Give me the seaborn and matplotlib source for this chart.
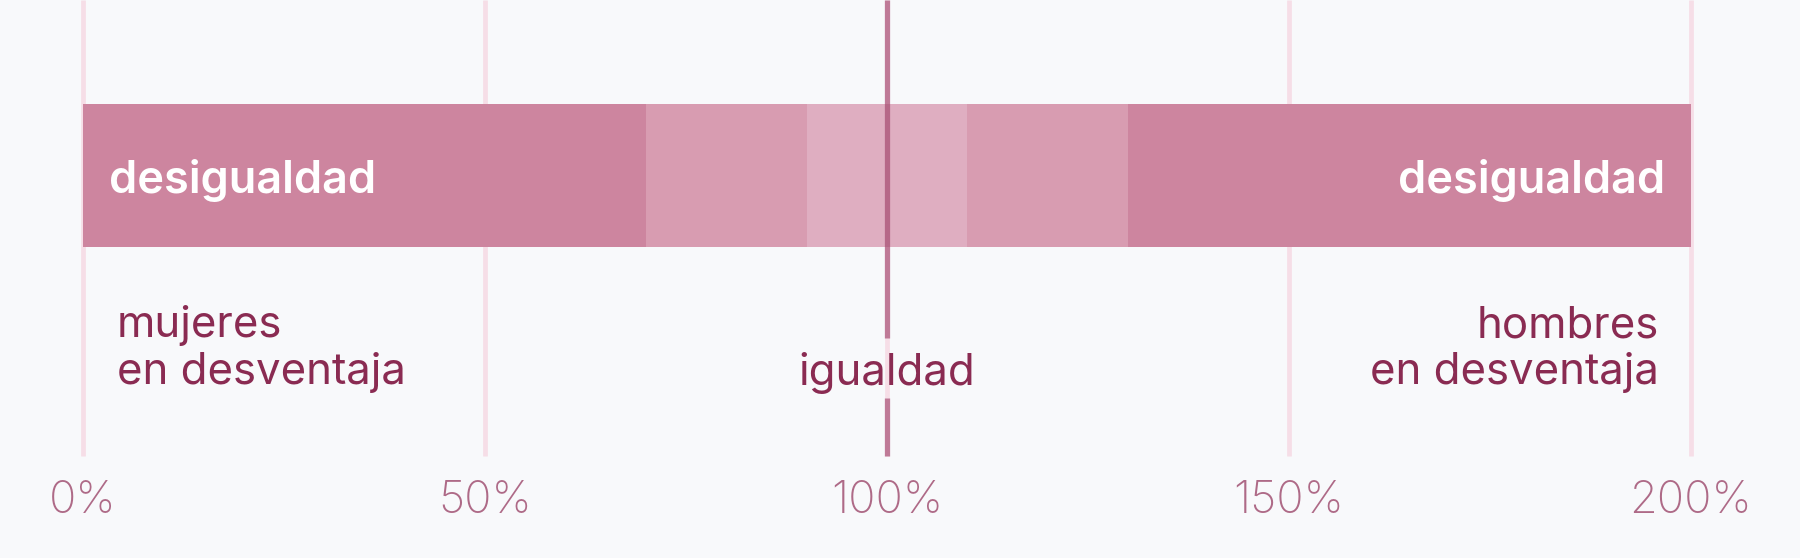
import numpy as np
import pandas as pd
import seaborn as sns
import matplotlib.pyplot as plt

# datos
limites = [0, 70, 90, 110, 130, 200]          # bordes de cada tramo (%)
tonos = ['#CD859F', '#D89CB1', '#DFAEC1', '#D89CB1', '#CD859F']
marcas = [0, 50, 100, 150, 200]
etiquetas = ['0%', '50%', '100%', '150%', '200%']
igualdad = 100

fondo = '#F8F9FB'
rejilla = '#F6DEE7'
texto = '#8A2B52'
texto_eje = '#AE6A87'

sns.set_theme(style='white')
plt.rcParams['font.family'] = ['Inter', 'DejaVu Sans']

fig = plt.figure(figsize=(18, 5.58), dpi=100, facecolor=fondo)
ax = fig.add_axes([0, 0, 1, 1])
ax.set_facecolor(fondo)

# escala: 0% en x=83px, 200% en x=1691px
ppu = (1691 - 83) / 200
ax.set_xlim(-83 / ppu, (1800 - 83) / ppu)

def px(p):
    return (p - 83) / ppu

def py(p):
    # pixel vertical -> unidades del eje (barra de 104 a 247 px)
    return (p - 175.5) * 0.8 / 143

# lineas de referencia
ax.vlines(marcas, py(0), py(456), color=rejilla, lw=3.4, zorder=0)

# tramos: barras acumuladas de mayor a menor
for i in range(len(tonos) - 1, -1, -1):
    df = pd.DataFrame({'valor': [limites[i + 1]], 'fila': ['brecha']})
    sns.barplot(data=df, x='valor', y='fila', orient='h', color=tonos[i],
                saturation=1, width=0.8, linewidth=0, ax=ax, zorder=1)

ax.set_ylim(py(558), py(0))
ax.set_xlim(px(0), px(1800))

# linea de igualdad
ax.vlines(igualdad, py(0), py(338), color='#9E3D66', alpha=0.62, lw=3.8, zorder=3)
ax.vlines(igualdad, py(398), py(456), color='#9E3D66', alpha=0.62, lw=3.8, zorder=3)

# textos
ax.text(px(109), py(193), 'desigualdad', color='white', fontsize=32.5,
        fontweight='semibold', va='baseline', ha='left', zorder=4)
ax.text(px(1665), py(193), 'desigualdad', color='white', fontsize=32.5,
        fontweight='semibold', va='baseline', ha='right', zorder=4)

ax.text(px(117), py(337), 'mujeres', color=texto, fontsize=31.5, va='baseline', ha='left')
ax.text(px(117), py(384), 'en desventaja', color=texto, fontsize=31.5, va='baseline', ha='left')
ax.text(px(1659), py(337), 'hombres', color=texto, fontsize=31.5, va='baseline', ha='right')
ax.text(px(1659), py(384), 'en desventaja', color=texto, fontsize=31.5, va='baseline', ha='right')
ax.text(igualdad, py(385), 'igualdad', color=texto, fontsize=31.5, va='baseline', ha='center')

for m, e in zip(marcas, etiquetas):
    ax.text(m, py(513), e, color=texto_eje, fontsize=32.5, fontweight='light',
            va='baseline', ha='center')

ax.set_axis_off()
plt.savefig('out.png', dpi=100, facecolor=fondo)
